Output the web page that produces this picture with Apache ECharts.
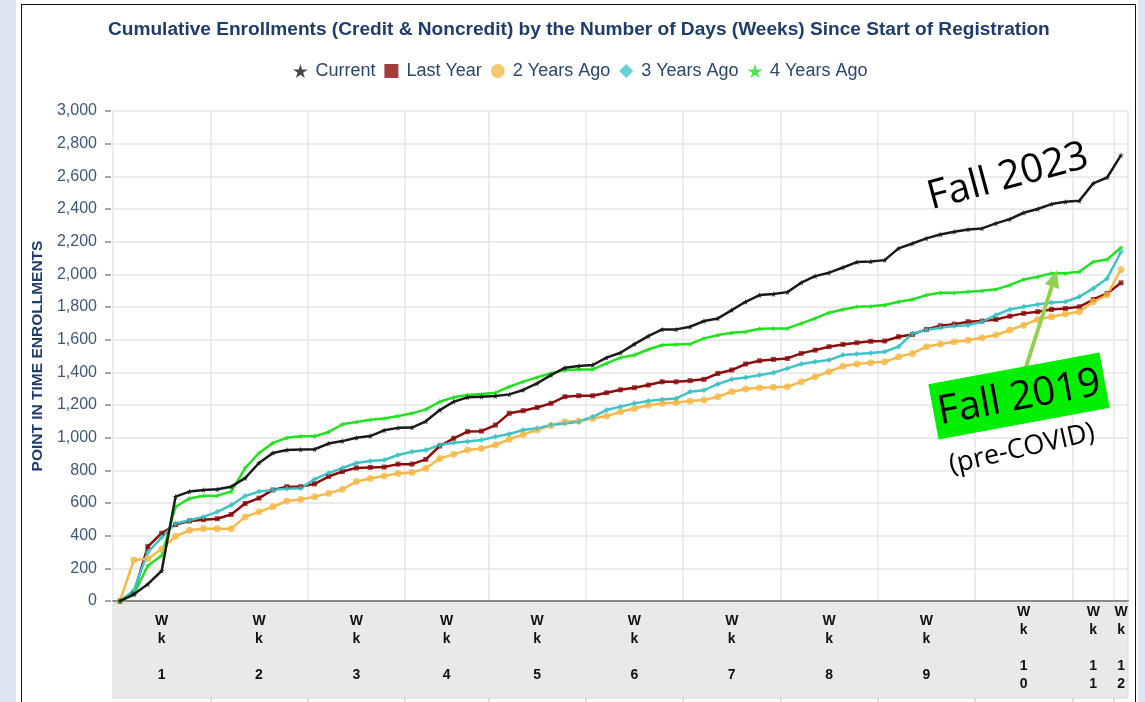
<!DOCTYPE html>
<html><head><meta charset="utf-8">
<script src="https://cdn.jsdelivr.net/npm/echarts@6/dist/echarts.min.js"></script>
<style>
html,body{margin:0;padding:0;background:#dce6f2;width:1145px;height:702px;overflow:hidden;}
#panel{position:absolute;left:16px;top:0;width:1122px;height:702px;background:#fff;}
#frame{position:absolute;left:21px;top:4px;width:1113px;height:740px;border:1.5px solid #111;}
#c{position:absolute;left:0;top:0;width:1145px;height:702px;}
</style>
</head><body><div id="panel"></div><div id="frame"></div><div id="c"></div>
<script>
const titleText = 'Cumulative Enrollments (Credit & Noncredit) by the Number of Days (Weeks) Since Start of Registration';
const yAxisName = 'POINT IN TIME ENROLLMENTS';
const weekLabels = ['1','2','3','4','5','6','7','8','9','10','11','12'];
const daysPerWeek = [7,7,7,6,7,7,7,7,7,7,3,1];
const seriesNames = ['Current','Last Year','2 Years Ago','3 Years Ago','4 Years Ago'];
const seriesColors = ['#1a1a1a','#8b0d0d','#f5b94a','#3fc3c8','#22e022'];

const current = [0,41,103,185,639,670,680,684,700,752,845,906,925,927,929,964,979,999,1010,1045,1060,1062,1100,1169,1220,1247,1251,1255,1265,1292,1332,1383,1428,1439,1445,1490,1520,1573,1622,1663,1663,1679,1714,1730,1781,1832,1873,1879,1891,1949,1989,2010,2042,2075,2078,2087,2159,2189,2220,2244,2261,2275,2281,2312,2338,2377,2400,2430,2444,2450,2557,2593,2730];
const lastYear = [0,48,333,415,468,490,498,504,530,597,630,680,700,700,717,762,793,815,818,820,838,838,867,949,996,1037,1040,1077,1149,1165,1185,1210,1251,1257,1257,1275,1293,1306,1322,1342,1342,1349,1357,1393,1414,1451,1471,1479,1485,1516,1536,1557,1571,1581,1590,1592,1618,1632,1663,1685,1695,1710,1714,1724,1744,1761,1771,1785,1791,1801,1846,1883,1948];
const twoYearsAgo = [0,251,258,319,396,433,443,443,443,515,546,577,612,622,639,659,684,731,750,765,781,787,812,873,898,924,934,955,990,1020,1047,1075,1098,1102,1118,1132,1159,1179,1199,1210,1216,1224,1230,1251,1281,1298,1306,1308,1312,1342,1373,1404,1438,1451,1459,1465,1495,1516,1557,1573,1587,1597,1612,1628,1659,1689,1724,1740,1757,1771,1832,1873,2030];
const threeYearsAgo = [0,65,298,390,474,494,515,546,587,643,670,680,688,690,746,783,814,845,857,863,894,914,924,955,969,977,985,1006,1022,1047,1057,1077,1087,1098,1128,1169,1190,1210,1224,1234,1240,1281,1291,1328,1357,1369,1383,1398,1424,1451,1465,1475,1506,1512,1518,1526,1557,1638,1659,1673,1683,1689,1710,1751,1785,1801,1816,1828,1832,1863,1914,1975,2138];
const fourYearsAgo = [0,41,216,278,577,628,645,645,670,814,906,968,999,1009,1009,1034,1082,1096,1110,1118,1132,1149,1173,1220,1247,1261,1267,1275,1312,1343,1369,1394,1414,1418,1418,1455,1490,1506,1540,1567,1571,1573,1608,1628,1642,1649,1667,1669,1669,1700,1730,1765,1785,1802,1804,1812,1832,1846,1873,1887,1887,1893,1899,1908,1934,1969,1985,2006,2006,2016,2077,2091,2165];
const seriesValues = [current,lastYear,twoYearsAgo,threeYearsAgo,fourYearsAgo];

// categories (one per registration day) built from the week structure
const categories = [];
const weekStartIdx = [];
const weekCenters = [];
const weekBoundaries = [];
daysPerWeek.forEach(function(n, w){
  weekStartIdx.push(categories.length);
  weekCenters.push(categories.length + (n - 1) / 2);
  for (let d = 1; d <= n; d++) categories.push('Wk' + weekLabels[w] + ' D' + d);
  if (w < daysPerWeek.length - 1) weekBoundaries.push(categories.length - 0.5);
});

const starPath = 'path://M50,0 L61,35 L98,35 L68,57 L79,91 L50,70 L21,91 L32,57 L2,35 L39,35 Z';
const squarePath = 'path://M0,0 L10,0 L10,10 L0,10 Z';
const diamondPath = 'path://M5,0 L10,5 L5,10 L0,5 Z';
const symbols = [starPath,'rect','circle','diamond',starPath];
const legendIcons = [starPath,squarePath,'circle',diamondPath,starPath];
const symbolSizes = [6,5,7,6,6];

const chart = echarts.init(document.getElementById('c'), null, {renderer:'canvas'});
const FONT = 'Liberation Sans';
const option = {
  backgroundColor: 'transparent',
  animation: false,
  title: {
    text: titleText, left: 103, top: 15,
    textStyle: {fontFamily: FONT, fontSize: 19.1, fontWeight: 'bold', color: '#1f3d6c'}
  },
  legend: {
    top: 57, left: 288, itemWidth: 20, itemHeight: 14, itemGap: 9, symbolKeepAspect: true,
    textStyle: {fontFamily: FONT, fontSize: 18, color: '#2a4670'},
    data: seriesNames.map(function(n, i){ return {name: n, icon: legendIcons[i]}; })
  },
  grid: [
    {left: 113, right: 17, top: 111, bottom: 101},
    {left: 113, right: 17, top: 603, height: 95, show: true, backgroundColor: '#e9e9e9', borderColor: '#d9d9d9', borderWidth: 1}
  ],
  xAxis: [
    {
      type: 'category', gridIndex: 0, data: categories, boundaryGap: true,
      axisLine: {lineStyle: {color: '#8a8a8a', width: 2}},
      axisTick: {show: false}, axisLabel: {show: false},
      splitLine: {show: true, interval: function(idx){ return weekStartIdx.indexOf(idx) >= 0; }, lineStyle: {color: '#e6e6e6', width: 1.5}}
    },
    {
      type: 'value', gridIndex: 1, position: 'top', min: -0.5, max: categories.length - 0.5,
      axisLine: {show: false},
      splitLine: {show: false},
      axisTick: {show: true, inside: true, length: 95, customValues: weekBoundaries, lineStyle: {color: '#d6d6d6', width: 1.5}},
      axisLabel: {
        show: true, inside: true, margin: 45, verticalAlign: 'middle', customValues: weekCenters,
        fontFamily: FONT, fontSize: 14, fontWeight: 'bold', color: '#111', lineHeight: 18,
        formatter: function(v){
          const k = weekCenters.indexOf(v);
          if (k < 0) return '';
          return 'W\nk\n\n' + weekLabels[k].split('').join('\n');
        }
      }
    }
  ],
  yAxis: [
    {
      type: 'value', gridIndex: 0, min: 0, max: 3000, interval: 200, offset: 2,
      name: yAxisName, nameLocation: 'middle', nameGap: 65,
      nameTextStyle: {fontFamily: FONT, fontSize: 15.5, fontWeight: 'bold', color: '#1f3d6c'},
      axisLine: {show: false},
      axisTick: {show: true, length: 6, lineStyle: {color: '#888', width: 1.5}},
      axisLabel: {margin: 14, fontFamily: FONT, fontSize: 16, color: '#3e5878',
        formatter: function(v){ return v.toLocaleString('en-US'); }},
      splitLine: {show: true, lineStyle: {color: '#e6e6e6', width: 1.5}}
    },
    {type: 'value', gridIndex: 1, show: false}
  ],
  series: seriesNames.map(function(n, i){
    return {
      name: n, type: 'line', xAxisIndex: 0, yAxisIndex: 0,
      data: seriesValues[i],
      symbol: symbols[i], symbolSize: symbolSizes[i], showSymbol: true,
      lineStyle: {color: seriesColors[i], width: 2.5},
      itemStyle: {color: seriesColors[i], opacity: 0.8},
      z: 2 + (i === 0 ? 5 : 0)
    };
  }),
  graphic: [
    {type: 'text', z: 100, x: 1008, y: 177, rotation: 15 * Math.PI / 180,
     style: {text: 'Fall 2023', fontFamily: 'Open Sans', fontSize: 40, fill: '#000', align: 'center', verticalAlign: 'middle'}},
    {type: 'line', z: 100, shape: {x1: 1025, y1: 370, x2: 1052, y2: 286},
     style: {stroke: '#92d050', lineWidth: 4}},
    {type: 'polygon', z: 100, shape: {points: [[1057, 270], [1059, 289], [1045, 284]]},
     style: {fill: '#92d050'}},
    {type: 'group', z: 100, x: 1019, y: 396, rotation: 10.5 * Math.PI / 180, children: [
      {type: 'rect', z: 100, shape: {x: -87, y: -28, width: 174, height: 56}, style: {fill: '#00ee00'}},
      {type: 'text', z: 101, x: 0, y: 2, style: {text: 'Fall 2019', fontFamily: 'Open Sans', fontSize: 40, fill: '#000', align: 'center', verticalAlign: 'middle'}}
    ]},
    {type: 'text', z: 100, x: 1022, y: 449, rotation: 13 * Math.PI / 180,
     style: {text: '(pre-COVID)', fontFamily: 'Open Sans', fontSize: 27, fill: '#000', align: 'center', verticalAlign: 'middle'}}
  ]
};
chart.setOption(option);
</script>
</body></html>
